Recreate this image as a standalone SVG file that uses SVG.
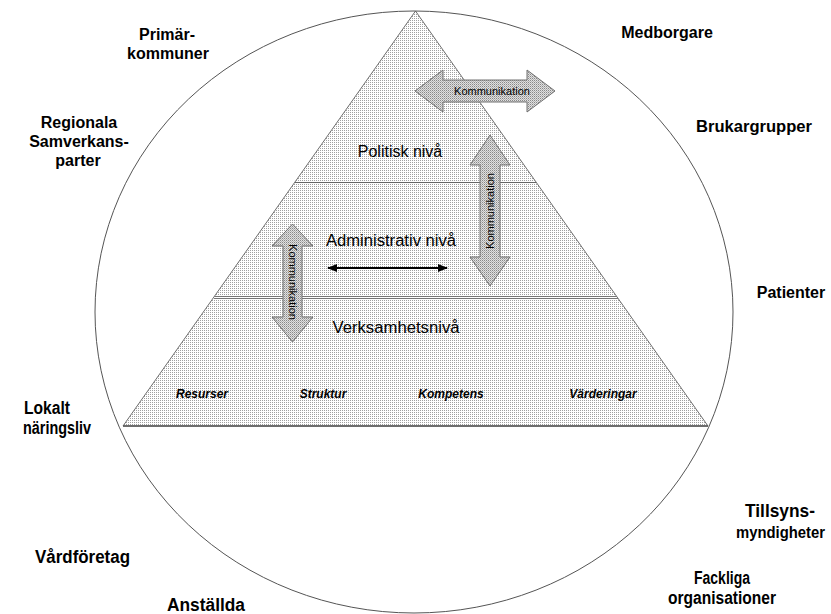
<svg xmlns="http://www.w3.org/2000/svg" width="831" height="614" viewBox="0 0 831 614">
<defs>
<pattern id="dots" width="2" height="2" patternUnits="userSpaceOnUse">
<rect width="2" height="2" fill="#ffffff"/>
<rect width="1" height="1" fill="#a0a0a0"/>
</pattern>
<pattern id="dots2" width="2" height="2" patternUnits="userSpaceOnUse">
<rect width="2" height="2" fill="#e0e0e0"/>
<rect width="1" height="1" fill="#888888"/>
<rect x="1" y="1" width="1" height="1" fill="#b4b4b4"/>
</pattern>
<marker id="ah" viewBox="0 0 10 10" refX="9" refY="5" markerWidth="5" markerHeight="5" orient="auto-start-reverse" markerUnits="strokeWidth">
<path d="M0,1 L10,5 L0,9 Z" fill="#000"/>
</marker>
<style>
.out{font-family:"Liberation Sans",Arial,sans-serif;font-weight:bold;font-size:16px;fill:#000;text-anchor:middle}
.nar{font-family:"Liberation Sans",Arial,sans-serif;font-weight:bold;font-size:18px;fill:#000}
.lvl{font-family:"Liberation Sans",Arial,sans-serif;font-size:16px;fill:#000;text-anchor:middle}
.it{font-family:"Liberation Sans",Arial,sans-serif;font-weight:bold;font-style:italic;font-size:12px;fill:#000;text-anchor:middle}
.kom{font-family:"Liberation Sans",Arial,sans-serif;font-size:11px;fill:#000;text-anchor:middle}
.arr{fill:url(#dots2);stroke:#707070;stroke-width:1}
</style>
</defs>
<rect width="831" height="614" fill="#fff"/>
<g id="pyramid">
<polygon points="415.5,11 708,426 123,426" fill="url(#dots)" stroke="#707070" stroke-width="1"/>
<line x1="123" y1="426" x2="708" y2="426" stroke="#555" stroke-width="1.5"/>
<line x1="295" y1="182.5" x2="536" y2="182.5" stroke="#666" stroke-width="1"/>
<line x1="215" y1="296.5" x2="617" y2="296.5" stroke="#777" stroke-width="1"/>
<line x1="214" y1="298.5" x2="618" y2="298.5" stroke="#777" stroke-width="1"/>
</g>
<ellipse id="circle" cx="414" cy="312" rx="319" ry="301" fill="none" stroke="#555" stroke-width="1"/>
<g id="levels">
<text class="lvl" x="400" y="157">Politisk nivå</text>
<text class="lvl" x="391" y="246" textLength="130" lengthAdjust="spacingAndGlyphs">Administrativ nivå</text>
<text class="lvl" x="396" y="333" textLength="127" lengthAdjust="spacingAndGlyphs">Verksamhetsnivå</text>
</g>
<g id="factors">
<text class="it" x="202" y="398">Resurser</text>
<text class="it" x="323" y="398">Struktur</text>
<text class="it" x="451" y="398">Kompetens</text>
<text class="it" x="603" y="398">Värderingar</text>
</g>
<g id="connectors">
<g id="komm-top">
<polygon class="arr" points="415,91 443,70 443,80 527,80 527,70 555,91 527,112 527,102 443,102 443,112"/>
<text class="kom" x="492" y="95">Kommunikation</text>
</g>
<g id="komm-right">
<polygon class="arr" points="490,135 510,165 500,165 500,257 510,257 490,286 470,257 480,257 480,165 470,165"/>
<text class="kom" transform="translate(494,211) rotate(-90)" x="0" y="0">Kommunikation</text>
</g>
<g id="komm-left">
<polygon class="arr" points="292.5,224 313,246 302,246 302,317 313,317 292.5,342 272,317 283,317 283,246 272,246"/>
<text class="kom" transform="translate(289,282) rotate(90)" x="0" y="0">Kommunikation</text>
</g>
<line id="admin-arrow" x1="328" y1="268" x2="447" y2="268" stroke="#000" stroke-width="2" marker-start="url(#ah)" marker-end="url(#ah)"/>
</g>
<g id="stakeholders">
<g id="primarkommuner"><text class="out" x="167" y="40">Primär-</text><text class="out" x="168" y="59">kommuner</text></g>
<g id="regionala"><text class="out" x="79" y="128">Regionala</text><text class="out" x="79" y="147">Samverkans-</text><text class="out" x="78" y="166">parter</text></g>
<g id="medborgare"><text class="out" x="667" y="38">Medborgare</text></g>
<g id="brukargrupper"><text class="out" x="754" y="132" textLength="116" lengthAdjust="spacingAndGlyphs">Brukargrupper</text></g>
<g id="patienter"><text class="out" x="791" y="298">Patienter</text></g>
<g id="lokalt"><text class="nar" x="24" y="414" textLength="46" lengthAdjust="spacingAndGlyphs">Lokalt</text><text class="nar" x="23" y="434" textLength="68" lengthAdjust="spacingAndGlyphs">näringsliv</text></g>
<g id="tillsyns"><text class="nar" x="745" y="517" textLength="70" lengthAdjust="spacingAndGlyphs">Tillsyns-</text><text class="nar" x="736" y="538" style="font-size:16px" textLength="89" lengthAdjust="spacingAndGlyphs">myndigheter</text></g>
<g id="vardforetag"><text class="nar" x="35" y="563" textLength="95" lengthAdjust="spacingAndGlyphs">Vårdföretag</text></g>
<g id="fackliga"><text class="nar" x="694" y="584" textLength="56" lengthAdjust="spacingAndGlyphs">Fackliga</text><text class="nar" x="668" y="604" textLength="108" lengthAdjust="spacingAndGlyphs">organisationer</text></g>
<g id="anstallda"><text class="nar" x="167" y="611" textLength="78" lengthAdjust="spacingAndGlyphs">Anställda</text></g>
</g>
</svg>
